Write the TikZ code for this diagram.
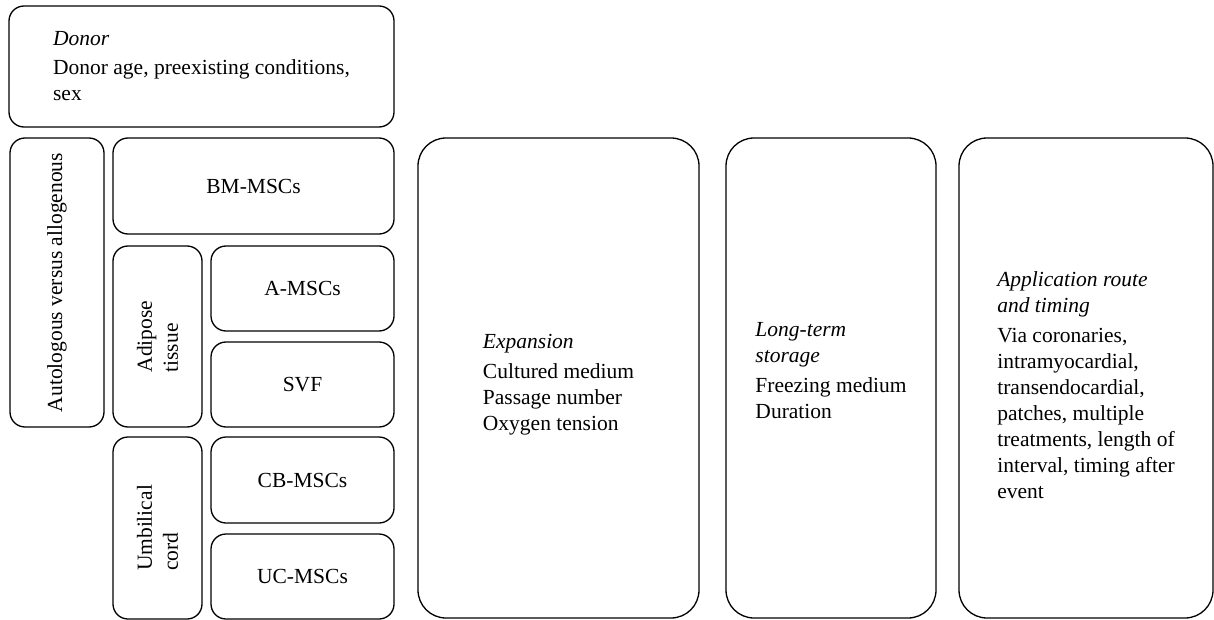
\documentclass[tikz,border=0pt]{standalone}
\usepackage{fontspec}
\setmainfont{Liberation Serif}

\begin{document}
\begin{tikzpicture}[x=1pt, y=-1pt,
    box/.style={draw, line width=1.3pt, rounded corners=15pt, align=left, inner sep=0pt,
        font=\fontsize{21.5}{26}\selectfont},
    bigbox/.style={box, rounded corners=28pt},
    boxtext/.style={align=left, inner sep=0pt, font=\fontsize{21.5}{26}\selectfont}]
    \useasboundingbox (0,0) rectangle (1214,620);

    % Donor
    \node (donor) at (201.5,66.5) [box, minimum width=385pt, minimum height=121pt]
        {\textit{Donor}\\[3pt] Donor age, preexisting conditions,\\ sex};

    % Cell source column
    \node (auto) at (57,282.5) [box, rotate=90, minimum width=289pt, minimum height=94pt]
        {Autologous versus allogenous};
    \node (bm) at (253.5,186) [box, minimum width=281pt, minimum height=96pt] {BM-MSCs};

    % Adipose tissue
    \node (adipose) at (157.5,336.5) [box, rotate=90, minimum width=181pt, minimum height=89pt]
        {Adipose\\ tissue};
    \node (amsc) at (302.5,288.5) [box, minimum width=183pt, minimum height=85pt] {A-MSCs};
    \node (svf) at (302.5,384.5) [box, minimum width=183pt, minimum height=85pt] {SVF};

    % Umbilical cord
    \node (cord) at (157.5,528) [box, rotate=90, minimum width=182pt, minimum height=89pt]
        {Umbilical\\ cord};
    \node (cbmsc) at (302.5,480) [box, minimum width=183pt, minimum height=86pt] {CB-MSCs};
    \node (ucmsc) at (302.5,576.5) [box, minimum width=183pt, minimum height=85pt] {UC-MSCs};

    % Expansion
    \node (expansion) at (558.5,378) [bigbox, minimum width=281pt, minimum height=480pt] {};
    \node (expansiontext) at ([yshift=-7pt]expansion.center) [boxtext]
        {\textit{Expansion}\\[4pt] Cultured medium\\ Passage number\\ Oxygen tension};

    % Storage
    \node (storage) at (831,378) [bigbox, minimum width=210pt, minimum height=480pt] {};
    \node (storagetext) at ([yshift=7pt]storage.center) [boxtext]
        {\textit{Long-term}\\ \textit{storage}\\[4pt] Freezing medium\\ Duration};

    % Application
    \node (application) at (1086,378) [bigbox, minimum width=254pt, minimum height=480pt] {};
    \node (applicationtext) at ([yshift=-7pt]application.center) [boxtext]
        {\textit{Application route}\\ \textit{and timing}\\[4pt] Via coronaries,\\ intramyocardial,\\
        transendocardial,\\ patches, multiple\\ treatments, length of\\ interval, timing after\\ event};

\end{tikzpicture}
\end{document}
